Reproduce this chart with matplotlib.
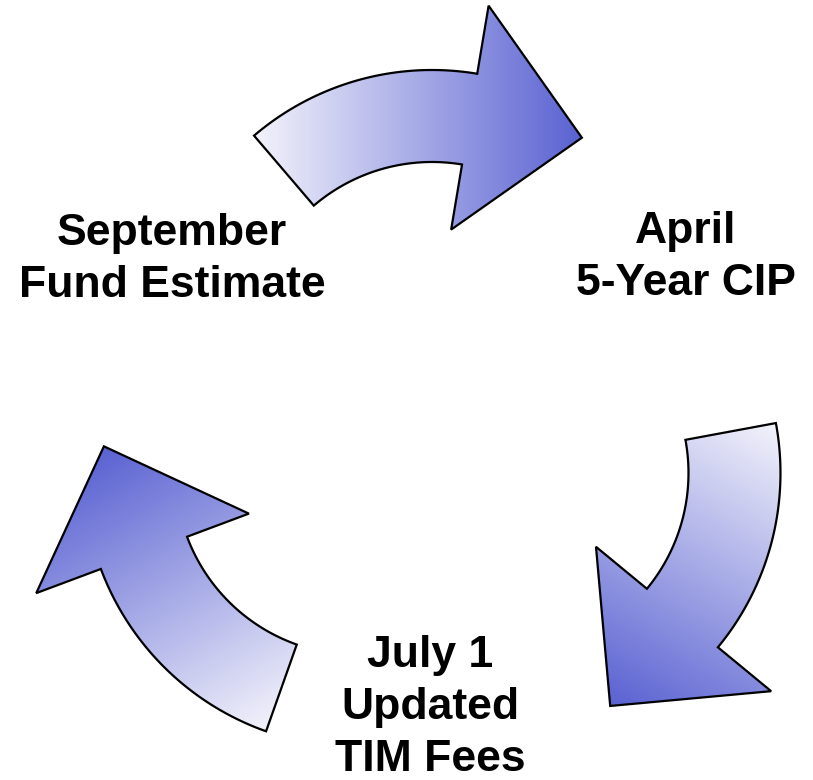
import matplotlib.pyplot as plt
import numpy as np
from matplotlib.patches import Polygon
from matplotlib.colors import LinearSegmentedColormap

plt.rcParams['font.family'] = ['Liberation Sans', 'DejaVu Sans']

# Data: the three stages of the cycle, clockwise from the top arrow
stages = ['April\n5-Year CIP', 'July 1\nUpdated\nTIM Fees', 'September\nFund Estimate']
label_xy = [(686, 295), (430, 771), (172, 297)]   # centre x, last baseline y
arrow_rotation = [0, 120, 240]   # each arrow is the top one turned clockwise

# Arrow geometry (pixels)
W, H = 813, 780
cycle_center = (432, 430)
offset = 86
r_in, r_out = 182, 274
head_in, head_out, tip_r = 116, 343, 255
shaft_span, head_span = 50, 26.5

cmap = LinearSegmentedColormap.from_list('arrow', ['#f3f3fb', '#5a62d2'])

fig = plt.figure(figsize=(W / 100, H / 100), dpi=100)
ax = fig.add_axes([0, 0, 1, 1])
ax.set_xlim(0, W)
ax.set_ylim(H, 0)
ax.axis('off')


def pt(c, r, deg):
    a = np.radians(deg)
    return np.column_stack([c[0] + r * np.cos(a), c[1] - r * np.sin(a)])


X, Y = np.meshgrid(np.arange(W) + 0.5, np.arange(H) + 0.5)

for rot in arrow_rotation:
    phi = 90 - rot
    c = (cycle_center[0] + offset * np.cos(np.radians(phi)),
         cycle_center[1] - offset * np.sin(np.radians(phi)))
    t0 = phi + 40.5
    t1 = t0 - shaft_span
    t2 = t1 - head_span
    outer = pt(c, r_out, np.linspace(t0, t1, 80))
    inner = pt(c, r_in, np.linspace(t1, t0, 80))
    head = np.vstack([pt(c, head_out, [t1]), pt(c, tip_r, [t2]), pt(c, head_in, [t1])])
    verts = np.vstack([outer, head, inner])

    poly = Polygon(verts, closed=True, facecolor='none', edgecolor='black',
                   linewidth=1.6, joinstyle='miter', zorder=3)
    ax.add_patch(poly)

    # linear gradient from tail (light) to tip (dark)
    d = np.array([np.cos(np.radians(rot)), np.sin(np.radians(rot))])
    proj_v = verts @ d
    grad = (X * d[0] + Y * d[1] - proj_v.min()) / (proj_v.max() - proj_v.min())
    img = ax.imshow(np.clip(grad, 0, 1), extent=(0, W, H, 0), origin='upper',
                    cmap=cmap, vmin=0, vmax=1, interpolation='bilinear', zorder=2)
    img.set_clip_path(poly)

for text, (x, y) in zip(stages, label_xy):
    ax.text(x, y, text, ha='center', va='baseline', multialignment='center',
            fontsize=32, fontweight='bold', linespacing=1.35, color='black')

ax.set_xlim(0, W)
ax.set_ylim(H, 0)
fig.savefig('out.png', dpi=100, facecolor='white')
